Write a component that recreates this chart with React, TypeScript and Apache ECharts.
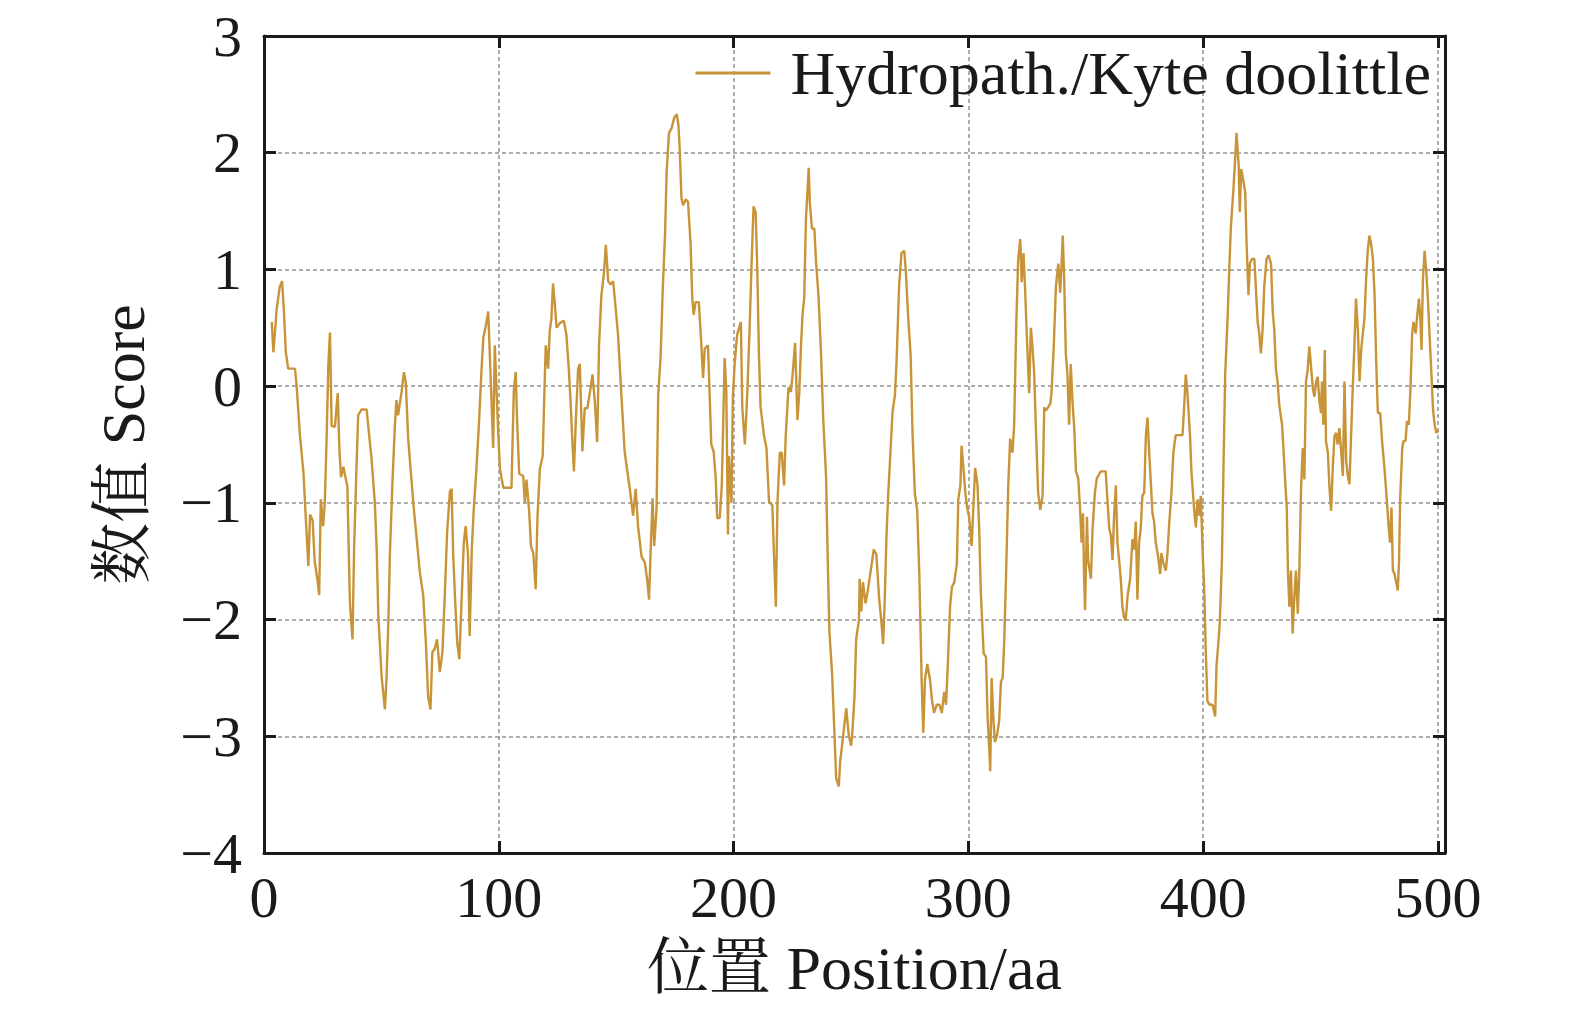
import React, { useEffect, useRef } from "react";
import * as echarts from "echarts";

const seriesName = "Hydropath./Kyte doolittle";
const xAxisName = "位置 Position/aa";
const yAxisName = "数值 Score";
const xTicks = [0, 100, 200, 300, 400, 500];
const yTicks = [-4, -3, -2, -1, 0, 1, 2, 3];

const positions = [
  3.3, 4.0, 5.4, 6.7, 7.7, 8.5, 9.3, 10.3, 13.2, 13.9, 15.3, 16.8, 17.9, 18.9, 19.6, 20.7, 21.6, 22.7, 23.5, 24.2,
  25.2, 25.9, 26.7, 27.4, 28.1, 28.8, 30.2, 31.4, 32.1, 32.8, 33.8, 35.5, 36.6, 37.7, 38.4, 39.4, 40.1, 41.5, 43.7, 44.4,
  45.8, 47.2, 48.0, 48.7, 50.1, 51.5, 52.2, 53.0, 53.6, 54.7, 55.7, 56.4, 57.1, 58.6, 59.6, 60.4, 61.4, 62.8, 63.8, 65.0,
  66.4, 67.8, 69.0, 69.9, 70.9, 71.7, 72.7, 73.7, 74.9, 76.0, 77.0, 78.0, 79.2, 79.9, 80.6, 81.3, 82.3, 83.2, 84.1, 85.1,
  85.9, 86.9, 87.6, 88.5, 89.3, 90.5, 91.6, 92.6, 93.4, 94.5, 95.5,
  96.9, 97.6, 98.3, 99.1, 99.8, 100.5, 101.9, 105.4, 105.8, 106.4, 107.2, 107.8, 108.7, 110.4, 111.1, 111.8, 112.9, 113.7,
  114.7, 115.7, 116.5, 117.5, 118.7, 119.4, 120.0, 121.0, 121.7, 122.4, 123.1, 123.8, 124.6, 126.0, 127.7, 128.8, 129.8,
  130.5, 131.4, 132.0, 132.8, 133.8, 134.5, 135.6, 136.6, 137.7, 138.7, 139.9, 140.9, 141.9, 142.7, 143.7, 144.7, 145.6,
  146.6, 147.6, 148.7, 149.4, 150.8, 152.2, 153.6, 154.6, 155.8, 157.2, 158.3, 159.3, 160.8, 162.2, 163.2, 164.0, 164.7,
  165.5, 166.2, 167.2, 167.9, 168.9, 169.8, 170.8, 171.5, 172.5, 173.6, 174.7, 175.8, 176.5, 177.1, 177.8, 178.5, 179.6,
  180.6, 181.7, 182.4, 183.0, 183.8, 185.2, 186.2, 187.0, 187.7, 189.1, 189.8, 190.5, 191.5, 192.4, 193.0, 194.1, 195.0,
  195.7, 196.2, 196.9, 197.6,
  198.0, 199.1, 199.7, 200.5, 201.5, 202.5, 203.1, 203.7, 204.8, 205.8, 206.8, 207.7, 208.5, 209.4, 210.1, 210.8, 211.5,
  213.0, 214.0, 215.1, 216.5, 217.2, 218.0, 218.7, 219.7, 220.5, 221.5, 222.2, 223.4, 224.4, 225.1, 226.2, 227.2, 228.0,
  228.7, 229.4, 230.1, 230.8, 232.0, 232.5, 233.4, 234.4, 235.1, 236.2, 237.2, 238.2, 239.4, 240.1, 240.8, 242.0, 243.0,
  243.7, 244.8, 245.4, 246.2, 247.2, 248.0, 249.1, 250.1, 250.8, 251.5, 252.2, 253.4, 253.7, 254.4, 255.1, 256.2, 257.2,
  258.7, 259.7, 260.8, 262.0, 263.0, 263.7, 264.4, 265.1, 265.8, 266.8, 267.7, 268.7, 269.4, 270.5, 271.5, 272.7, 273.4,
  274.4, 275.4, 276.2, 277.2, 278.2, 279.1, 280.1, 280.8, 281.5, 282.5, 283.7, 284.5, 285.4, 286.5, 287.7, 288.7, 289.7,
  290.5, 291.2, 292.2, 293.0,
  294.0, 295.1, 295.7, 296.6, 297.1, 298.0, 298.7, 299.4, 300.4, 301.4, 302.2, 302.9, 303.9, 304.6, 305.3, 306.5, 307.5,
  308.2, 308.9, 309.3, 309.9, 310.7, 311.3, 312.2, 313.1, 313.9, 314.6, 315.3, 316.0, 317.0, 317.8, 318.8, 319.5, 320.4,
  321.2, 322.1, 322.7, 323.5, 324.1, 324.9, 325.9, 326.6, 327.3, 328.0, 328.8, 329.7, 330.6, 331.6, 332.3, 333.0, 334.0,
  334.9, 335.4, 336.3, 337.3, 338.3, 339.1, 339.7, 340.2, 340.8, 341.5, 342.2, 342.9, 343.6, 344.4, 345.1, 345.8, 346.8,
  347.6, 348.2, 348.8, 349.3, 349.7, 350.5, 351.0, 352.2, 352.9, 353.9, 354.7, 356.4, 358.5, 359.2, 360.0, 360.7, 361.4,
  362.1, 362.8, 363.5, 364.2, 364.9, 365.6, 366.3, 367.0, 367.8, 368.9, 369.9, 370.6, 371.3, 372.0, 372.7, 373.4, 374.1,
  374.9, 375.6, 376.3, 377.0, 377.7, 378.4, 379.1, 379.8, 380.8, 381.7, 382.2, 383.1, 384.1, 384.8, 385.5, 386.5, 387.3,
  388.3, 391.2, 391.9, 392.6, 393.3, 394.4, 395.0,
  396.2, 396.9, 397.6, 398.3, 399.0, 399.7, 400.4, 401.1, 401.8, 402.8, 404.0, 405.1, 405.7, 406.5, 407.1, 408.0, 408.7,
  409.4, 410.4, 411.1, 411.8, 412.8, 413.5, 414.2, 415.1, 415.6, 416.2, 417.1, 417.9, 418.5, 419.3, 419.9, 420.8, 421.8,
  422.5, 423.2, 423.9, 424.6, 425.3, 426.0, 427.0, 427.9, 428.9, 429.6, 430.3, 431.0, 431.7, 432.4, 433.6, 434.3, 435.0,
  435.6, 436.1, 436.7, 437.4, 438.1, 438.8, 439.5, 440.3, 441.0, 441.7, 442.4, 443.1, 443.8, 444.5, 445.2, 445.9, 446.7,
  447.4, 448.1, 448.8, 449.5, 450.2, 450.6, 451.2, 451.8, 452.3, 453.1, 453.8, 454.5, 455.2, 455.9, 456.6, 457.3, 458.0,
  458.8, 459.5, 460.2, 460.9, 461.6, 462.3, 463.0, 463.7, 464.4, 465.1, 465.9, 466.6, 467.3, 468.0, 468.7, 469.4, 470.1,
  470.8, 471.5, 472.3, 473.0, 473.7, 474.4, 475.4, 476.2, 477.2, 478.2, 478.9, 479.6, 480.2, 480.8, 481.5, 482.2, 482.9,
  483.4, 483.9, 484.8, 485.3, 486.2, 486.8, 487.6, 488.3, 489.0, 489.6, 490.5, 491.2, 491.9, 492.5, 493.0, 493.6, 494.3,
  495.0, 495.7, 496.4, 497.2, 497.9, 498.6, 499.3, 500.3,
];

const scores = [
  0.55, 0.29, 0.66, 0.85, 0.9, 0.64, 0.29, 0.15, 0.15, 0.0, -0.42, -0.74, -1.17, -1.54, -1.1, -1.15, -1.5, -1.65, -1.79, -0.97,
  -1.2, -1.0, -0.42, 0.18, 0.46, -0.34, -0.35, -0.06, -0.54, -0.78, -0.69, -0.86, -1.86, -2.17, -1.37, -0.69, -0.25, -0.2, -0.2, -0.34,
  -0.62, -1.0, -1.4, -1.97, -2.49, -2.77, -2.5, -2.0, -1.45, -0.83, -0.36, -0.12, -0.25, -0.05, 0.12, 0.03, -0.45, -0.8, -1.05, -1.3,
  -1.6, -1.79, -2.22, -2.66, -2.77, -2.28, -2.25, -2.17, -2.45, -2.28, -1.79, -1.25, -0.9, -0.88, -1.45, -1.79, -2.2, -2.34, -1.86, -1.34,
  -1.2, -1.45, -2.14, -1.4, -1.07, -0.7, -0.3, 0.12, 0.41, 0.52, 0.64,
  -0.13, -0.53, 0.35, -0.07, -0.42, -0.71, -0.87, -0.87, -0.53, -0.04, 0.12, -0.3, -0.75, -0.77, -1.0, -0.8, -1.06, -1.37,
  -1.43, -1.74, -1.11, -0.71, -0.6, -0.07, 0.35, 0.15, 0.47, 0.58, 0.88, 0.72, 0.5, 0.54, 0.56, 0.44, 0.15,
  -0.1, -0.5, -0.73, -0.3, 0.15, 0.19, -0.56, -0.19, -0.19, -0.07, 0.1, -0.13, -0.48, 0.35, 0.78, 0.95, 1.21,
  0.9, 0.87, 0.9, 0.75, 0.44, -0.07, -0.56, -0.71, -0.88, -1.11, -0.88, -1.2, -1.46, -1.51, -1.66, -1.83, -1.4,
  -0.96, -1.37, -1.05, -0.07, 0.24, 0.81, 1.3, 1.84, 2.17, 2.21, 2.3, 2.33, 2.24, 2.01, 1.61, 1.55, 1.6,
  1.58, 1.21, 0.75, 0.61, 0.72, 0.72, 0.38, 0.07, 0.32, 0.35, -0.07, -0.5, -0.56, -0.79, -1.13, -1.13, -0.84,
  -0.2, 0.24, -0.04, -1.27,
  -0.6, -1.0, -0.08, 0.2, 0.44, 0.51, 0.55, -0.18, -0.5, -0.08, 0.48, 1.07, 1.54, 1.49, 1.0, 0.27, -0.18,
  -0.43, -0.53, -0.99, -1.02, -1.44, -1.89, -0.99, -0.57, -0.57, -0.85, -0.43, -0.01, -0.05, 0.09, 0.37, -0.29, -0.05,
  0.34, 0.62, 0.76, 1.42, 1.87, 1.56, 1.35, 1.35, 1.07, 0.76, 0.3, -0.29, -0.78, -1.48, -2.1, -2.48, -3.0,
  -3.36, -3.43, -3.22, -3.08, -2.9, -2.76, -3.0, -3.08, -2.9, -2.66, -2.17, -2.0, -1.65, -1.93, -1.68, -1.86, -1.75,
  -1.54, -1.4, -1.44, -1.82, -2.03, -2.21, -1.82, -1.3, -0.95, -0.57, -0.22, -0.08, 0.2, 0.86, 1.14, 1.16, 0.97,
  0.58, 0.27, -0.39, -0.92, -1.06, -1.61, -2.52, -2.97, -2.52, -2.38, -2.52, -2.69, -2.8, -2.73, -2.73, -2.8, -2.62,
  -2.73, -2.41, -1.89, -1.72,
  -1.68, -1.52, -0.97, -0.85, -0.51, -0.73, -0.91, -1.03, -1.13, -1.37, -1.0, -0.7, -0.85, -1.22, -1.77, -2.29, -2.32,
  -2.84, -3.11, -3.3, -2.5, -2.87, -3.05, -2.99, -2.87, -2.53, -2.5, -2.17, -1.65, -0.85, -0.45, -0.57, -0.33, 0.53,
  1.08, 1.26, 0.89, 1.14, 0.86, 0.43, -0.06, 0.5, 0.34, 0.13, -0.39, -0.91, -1.06, -0.94, -0.18, -0.21, -0.18,
  -0.15, -0.06, 0.31, 0.86, 1.05, 0.8, 1.05, 1.29, 0.92, 0.28, 0.1, -0.33, 0.19, -0.15, -0.36, -0.73, -0.79,
  -1.06, -1.34, -1.09, -1.65, -1.92, -1.12, -1.49, -1.65, -1.22, -0.91, -0.79, -0.73, -0.73, -0.97, -1.22, -1.28, -1.49,
  -1.09, -0.85, -1.34, -1.49, -1.65, -1.89, -1.98, -2.01, -1.8, -1.65, -1.31, -1.4, -1.16, -1.83, -1.34, -1.22, -0.94,
  -0.91, -0.42, -0.27, -0.57, -0.82, -1.09, -1.16, -1.34, -1.46, -1.61, -1.43, -1.52, -1.58, -1.43, -1.19, -0.91, -0.57,
  -0.42, -0.42, -0.18, 0.1, -0.06, -0.42, -0.73,
  -1.07, -1.21, -0.97, -1.11, -0.94, -1.38, -1.72, -2.26, -2.7, -2.73, -2.73, -2.83, -2.39, -2.19, -2.02, -1.48, -0.64,
  0.11, 0.58, 0.99, 1.36, 1.66, 1.9, 2.17, 1.9, 1.49, 1.86, 1.76, 1.66, 1.22, 0.78, 1.05, 1.09, 1.09,
  0.82, 0.55, 0.45, 0.28, 0.48, 0.85, 1.09, 1.12, 1.05, 0.65, 0.48, 0.14, 0.04, -0.16, -0.33, -0.57, -0.84,
  -1.04, -1.58, -1.89, -1.58, -2.12, -1.82, -1.58, -1.95, -1.55, -0.87, -0.53, -0.8, 0.04, 0.14, 0.34, 0.18, -0.02,
  -0.09, 0.04, 0.08, -0.13, -0.23, 0.04, -0.33, 0.31, -0.47, -0.57, -0.87, -1.07, -0.7, -0.43, -0.4, -0.5, -0.36,
  -0.57, -0.77, 0.04, -0.64, -0.77, -0.84, -0.43, -0.02, 0.34, 0.75, 0.48, 0.04, 0.31, 0.45, 0.58, 0.92, 1.16,
  1.29, 1.22, 1.09, 0.78, 0.21, -0.23, -0.23, -0.47, -0.7, -0.97, -1.18, -1.34, -1.04, -1.58, -1.61, -1.68, -1.75,
  -1.51, -0.97, -0.53, -0.47, -0.47, -0.3, -0.33, -0.02, 0.45, 0.55, 0.45, 0.61, 0.75, 0.58, 0.31, 0.92, 1.16,
  0.99, 0.75, 0.45, 0.11, -0.2, -0.33, -0.4, -0.38,
];

const LINE_COLOR = "#C8943A";
const INK = "#1a1a1a";
const FONT = "'Liberation Serif', 'Times New Roman', 'Noto Serif CJK SC', 'Noto Sans CJK SC', serif";

export default function App() {
  const ref = useRef<HTMLDivElement>(null);

  useEffect(() => {
    if (!ref.current) return;
    const chart = echarts.init(ref.current, null, { renderer: "svg" });
    const n = Math.min(positions.length, scores.length);
    const data: number[][] = [];
    for (let i = 0; i < n; i++) data.push([positions[i], scores[i]]);

    const xMin = xTicks[0];
    const xMax = 503;
    const yMin = yTicks[0];
    const yMax = yTicks[yTicks.length - 1];

    const axisLine = { show: true, onZero: false, lineStyle: { color: INK, width: 3 } };
    const axisTick = { show: true, inside: true, length: 12, lineStyle: { color: INK, width: 3 } };
    const splitLine = { show: true, lineStyle: { type: [4, 3], color: "#929292", width: 1.5 } };
    const fmtX = (v: number) => (xTicks.includes(v) ? String(v) : "");
    const fmtY = (v: number) => (yTicks.includes(v) ? (v < 0 ? "\u2212" + Math.abs(v) : String(v)) : "");

    chart.setOption({
      animation: false,
      backgroundColor: "#ffffff",
      textStyle: { fontFamily: FONT },
      grid: { left: 264, right: 130, top: 36, bottom: 160, containLabel: false },
      legend: {
        show: true,
        right: 144,
        top: 42,
        padding: 0,
        itemWidth: 75,
        itemHeight: 3,
        icon: "rect",
        data: [seriesName],
        textStyle: { fontSize: 62, fontFamily: FONT, color: INK, lineHeight: 62, padding: [0, 0, 0, 15] },
      },
      xAxis: [
        {
          type: "value",
          position: "bottom",
          min: xMin,
          max: xMax,
          interval: 100,
          name: xAxisName,
          nameLocation: "middle",
          nameGap: 84,
          nameTextStyle: { fontSize: 62, fontFamily: FONT, color: INK },
          axisLine,
          axisTick,
          axisLabel: { margin: 15, fontSize: 58, fontFamily: FONT, color: INK, formatter: fmtX },
          splitLine,
        },
        {
          type: "value",
          position: "top",
          min: xMin,
          max: xMax,
          interval: 100,
          axisLine,
          axisTick,
          axisLabel: { show: false },
          splitLine: { show: false },
        },
      ],
      yAxis: [
        {
          type: "value",
          position: "left",
          min: yMin,
          max: yMax,
          interval: 1,
          name: yAxisName,
          nameLocation: "middle",
          nameGap: 110,
          nameRotate: 90,
          nameTextStyle: { fontSize: 62, fontFamily: FONT, color: INK },
          axisLine,
          axisTick,
          axisLabel: { margin: 22, fontSize: 58, fontFamily: FONT, color: INK, formatter: fmtY },
          splitLine,
        },
        {
          type: "value",
          position: "right",
          min: yMin,
          max: yMax,
          interval: 1,
          axisLine,
          axisTick,
          axisLabel: { show: false },
          splitLine: { show: false },
        },
      ],
      series: [
        {
          name: seriesName,
          type: "line",
          xAxisIndex: 0,
          yAxisIndex: 0,
          data,
          showSymbol: false,
          symbol: "none",
          lineStyle: { color: LINE_COLOR, width: 2.4 },
          itemStyle: { color: LINE_COLOR },
          clip: true,
        },
      ],
    });

    return () => chart.dispose();
  }, []);

  return (
    <div
      ref={ref}
      style={{ position: "fixed", left: 0, top: 0, width: 1575, height: 1013, background: "#fff" }}
    />
  );
}
